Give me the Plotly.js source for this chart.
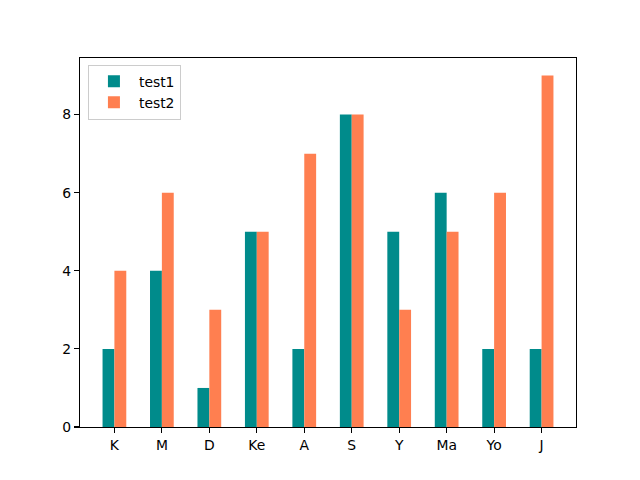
<!DOCTYPE html>
<html>
<head>
<meta charset="utf-8">
<script src="https://cdn.plot.ly/plotly-3.0.1.min.js"></script>
<style>
  html, body { margin: 0; padding: 0; background: #fff; }
  #plot { width: 640px; height: 480px; }
</style>
</head>
<body>
<div id="plot"></div>
<script>
const names = ['K', 'M', 'D', 'Ke', 'A', 'S', 'Y', 'Ma', 'Yo', 'J']
const test1 = [2, 4, 1, 5, 2, 8, 5, 6, 2, 2]
const test2 = [4, 6, 3, 5, 7, 8, 3, 5, 6, 9]

const font = { family: 'DejaVu Sans', size: 13.9, color: '#000' }

const traces = [
  { x: names, y: test1, type: 'bar', name: 'test1', marker: { color: '#008B8B', line: { width: 0 } } },
  { x: names, y: test2, type: 'bar', name: 'test2', marker: { color: '#FF7F50', line: { width: 0 } } }
]

const axis = {
  showline: true,
  mirror: true,
  linecolor: '#000',
  linewidth: 1.1,
  ticks: 'outside',
  ticklen: 5,
  tickwidth: 1.1,
  tickcolor: '#000',
  showgrid: false,
  zeroline: false,
  tickfont: font
}

const layout = {
  width: 640,
  height: 480,
  margin: { l: 80, r: 64, t: 58, b: 53 },
  paper_bgcolor: '#fff',
  plot_bgcolor: '#fff',
  font: font,
  barmode: 'group',
  bargap: 0.5,
  bargroupgap: 0,
  xaxis: Object.assign({}, axis, { type: 'category', range: [-0.725, 9.725] }),
  yaxis: Object.assign({}, axis, { range: [0, 9.45], tickvals: [0, 2, 4, 6, 8] }),
  showlegend: true,
  legend: {
    x: 0.016, y: 0.982, xanchor: 'left', yanchor: 'top',
    bgcolor: 'rgba(255,255,255,0.8)',
    bordercolor: '#cccccc',
    borderwidth: 1,
    font: font,
    itemwidth: 40,
    tracegroupgap: 2
  }
}

Plotly.newPlot('plot', traces, layout, { staticPlot: true })
</script>
</body>
</html>
